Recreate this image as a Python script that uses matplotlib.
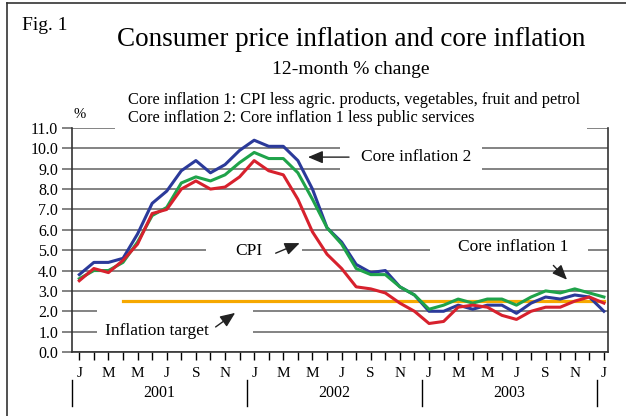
import matplotlib
matplotlib.use("Agg")
import matplotlib.pyplot as plt
from matplotlib.patches import Rectangle
from matplotlib.lines import Line2D
import matplotlib.transforms as mtransforms

# monthly data, Jan 2001 - Jan 2004 (12-month % change)
cpi = [3.5, 4.1, 3.9, 4.5, 5.3, 6.8, 7.0, 8.0, 8.4, 8.0, 8.1, 8.6,
       9.4, 8.9, 8.7, 7.5, 5.9, 4.8, 4.1, 3.2, 3.1, 2.9, 2.4, 2.0,
       1.4, 1.5, 2.2, 2.3, 2.2, 1.8, 1.6, 2.0, 2.2, 2.2, 2.5, 2.7, 2.4]
core1 = [3.6, 4.0, 4.0, 4.4, 5.4, 6.7, 7.1, 8.3, 8.6, 8.4, 8.7, 9.3,
         9.8, 9.5, 9.5, 8.8, 7.5, 6.1, 5.3, 4.1, 3.8, 3.8, 3.2, 2.8,
         2.1, 2.3, 2.6, 2.4, 2.6, 2.6, 2.3, 2.7, 3.0, 2.9, 3.1, 2.9, 2.7]
core2 = [3.8, 4.4, 4.4, 4.6, 5.8, 7.3, 7.9, 8.9, 9.4, 8.8, 9.2, 9.9,
         10.4, 10.1, 10.1, 9.4, 8.0, 6.1, 5.4, 4.3, 3.9, 4.0, 3.2, 2.8,
         2.0, 2.0, 2.3, 2.1, 2.3, 2.3, 1.9, 2.4, 2.7, 2.6, 2.8, 2.7, 2.0]
target_value = 2.5
target_start = 3  # April 2001

month_letters = ["J", "M", "M", "J", "S", "N"]
years = ["2001", "2002", "2003"]
yticks = list(range(0, 12))

plt.rcParams["font.family"] = ["Liberation Serif", "DejaVu Serif"]

months = list(range(len(cpi)))

fig = plt.figure(figsize=(6.26, 4.16), dpi=100)
ax = fig.add_axes([72 / 626, 1 - 352 / 416, (608 - 72) / 626, (352 - 128) / 416])

GRID = "#7a7a7a"

# gridlines + ticks
ax.set_ylim(0, 11)
ax.set_xlim(-0.5, 36.28)
ax.set_yticks(yticks)
ax.set_yticklabels([f"{v:.1f}" for v in yticks], fontsize=11.5)
ax.yaxis.grid(True, color=GRID, linewidth=1.3)
ax.set_axisbelow(True)
ax.tick_params(axis="y", direction="out", length=7, width=1.3, color=GRID, pad=3)

ax.set_xticks(months)
labels = []
for i in months:
    labels.append(month_letters[(i % 12) // 2] if i % 2 == 0 else "")
ax.set_xticklabels(labels, fontsize=11)
ax.tick_params(axis="x", direction="out", length=6, width=1, color="black", pad=5)

for side in ["left", "right", "bottom"]:
    ax.spines[side].set_color("#333333")
    ax.spines[side].set_linewidth(1.2)
ax.spines["top"].set_visible(False)

# white gaps in the gridlines behind labels
gaps = [
    (17.9, 27.6, 8.6, 10.4),
    (8.7, 15.3, 4.7, 5.3),
    (1.2, 11.9, 0.7, 2.3),
    (24.1, 34.9, 4.7, 5.3),
    (2.45, 34.85, 10.7, 11.4),
]
for x0, x1, y0, y1 in gaps:
    ax.add_patch(Rectangle((x0, y0), x1 - x0, y1 - y0, facecolor="white",
                           edgecolor="none", zorder=1, clip_on=False))

# series
ax.plot(months[target_start:], [target_value] * (len(months) - target_start),
        color="#f6a800", linewidth=2.3, zorder=2)
ax.plot(months, core2, color="#2b3a9a", linewidth=2.2, zorder=3)
ax.plot(months, core1, color="#1fa34a", linewidth=2.2, zorder=4)
ax.plot(months, cpi, color="#d7212d", linewidth=2.2, zorder=5)

# annotations
head = "-|>,head_length=0.9,head_width=0.38"
ax.text(23.1, 9.57, "Core inflation 2", fontsize=12.5, ha="center", va="center", zorder=6)
ax.annotate("", xy=(15.5, 9.57), xytext=(18.7, 9.57),
            arrowprops=dict(arrowstyle=head, color="#222222", lw=1.0), zorder=6)
ax.text(11.66, 4.94, "CPI", fontsize=12.5, ha="center", va="center", zorder=6)
ax.annotate("", xy=(15.3, 5.4), xytext=(13.3, 4.8),
            arrowprops=dict(arrowstyle=head, color="#222222", lw=1.0), zorder=6)
ax.text(5.35, 1.05, "Inflation target", fontsize=12.5, ha="center", va="center", zorder=6)
ax.annotate("", xy=(10.85, 2.0), xytext=(9.2, 1.15),
            arrowprops=dict(arrowstyle=head, color="#222222", lw=1.0), zorder=6)
ax.text(29.8, 5.14, "Core inflation 1", fontsize=12.5, ha="center", va="center", zorder=6)
ax.annotate("", xy=(33.6, 3.45), xytext=(32.4, 4.35),
            arrowprops=dict(arrowstyle=head, color="#222222", lw=1.0), zorder=6)

# year labels and separators below the month letters
trans = mtransforms.blended_transform_factory(ax.transData, ax.transAxes)
for k, yr in enumerate(years):
    ax.text(12 * k + 5.5, -0.185, yr, fontsize=11.5, ha="center", va="center",
            transform=trans)
for xs in [-0.5, 11.5, 23.5, 35.5]:
    ax.add_line(Line2D([xs, xs], [-0.125, -0.24], color="black", lw=1,
                       transform=trans, clip_on=False))

# titles and header text
fig.text(22 / 626, 1 - 26 / 416, "Fig. 1", fontsize=14, ha="left", va="center")
fig.text(351 / 626, 1 - 40 / 416, "Consumer price inflation and core inflation",
         fontsize=19.5, ha="center", va="center")
fig.text(351 / 626, 1 - 70 / 416, "12-month % change", fontsize=14, ha="center", va="center")
fig.text(128 / 626, 1 - 100 / 416,
         "Core inflation 1: CPI less agric. products, vegetables, fruit and petrol",
         fontsize=11.8, ha="left", va="center")
fig.text(128 / 626, 1 - 118 / 416,
         "Core inflation 2: Core inflation 1 less public services",
         fontsize=11.8, ha="left", va="center")
fig.text(80 / 626, 1 - 115 / 416, "%", fontsize=10.5, ha="center", va="center")

# outer frame (left and top edges)
fig.add_artist(Line2D([7 / 626, 7 / 626], [0, 1 - 3 / 416], color="#333333", lw=1.2,
                      transform=fig.transFigure))
fig.add_artist(Line2D([7 / 626, 1], [1 - 3 / 416, 1 - 3 / 416], color="#333333", lw=1.2,
                      transform=fig.transFigure))

fig.savefig("out.png", dpi=100)
